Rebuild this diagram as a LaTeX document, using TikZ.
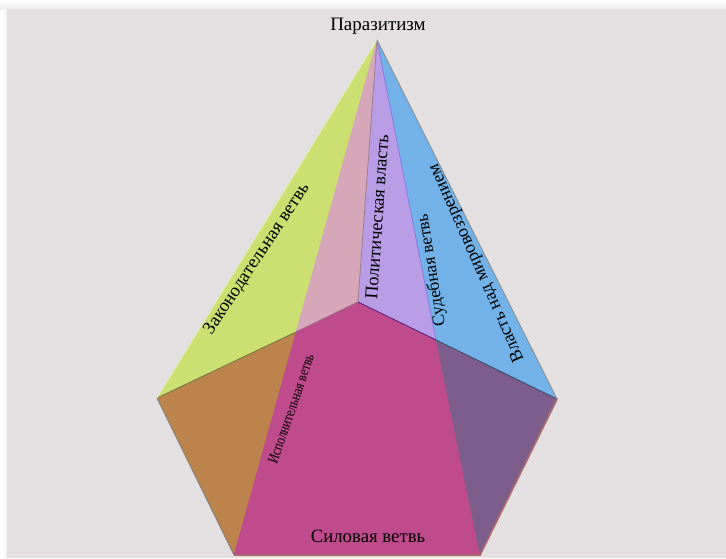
\documentclass[tikz,border=0pt]{standalone}
\usepackage{fontspec}
\setmainfont{Liberation Serif}
\usetikzlibrary{positioning}

\definecolor{wallgray}{HTML}{E4E0E1}
\definecolor{leggreen}{HTML}{CBE070}
\definecolor{polpink}{HTML}{D6A6B9}
\definecolor{pollilac}{HTML}{B89DE6}
\definecolor{viewblue}{HTML}{72B2E8}
\definecolor{execbrown}{HTML}{BD834C}
\definecolor{forcemag}{HTML}{BF4A8C}
\definecolor{courtviolet}{HTML}{7D5D8C}
\definecolor{rimbrown}{HTML}{A8686E}

\begin{document}
\begin{tikzpicture}
	[x=1pt, y=-1pt, face/.style = {draw=#1, fill=#1, line width=0.4pt, line join=round},
	rib/.style = {line width=0.8pt}, txt/.style = {inner sep=0pt, text=black}]
	\useasboundingbox (0,0) rectangle (726,558);
	\fill[white] (0,0) rectangle (726,558);
	\shade[top color=white, bottom color=black!7, draw=none] (0,0) rectangle (726,9);
	\shade[left color=white, right color=black!6, draw=none] (3,9) rectangle (7,558);
	\fill[wallgray] (7,9) rectangle (726,558);

	\coordinate (apex) at (377,40);
	\coordinate (left) at (157,398);
	\coordinate (right) at (557,399);
	\coordinate (botl) at (234,555);
	\coordinate (botr) at (480,555);
	\coordinate (back) at (358,302);
	\coordinate (frontl) at (296,332);
	\coordinate (frontr) at (436,340);

	% upper faces
	\draw[face=leggreen] (apex) -- (left) -- (frontl) -- cycle;
	\draw[face=polpink] (apex) -- (frontl) -- (back) -- cycle;
	\draw[face=pollilac] (apex) -- (back) -- (frontr) -- cycle;
	\draw[face=viewblue] (apex) -- (frontr) -- (right) -- cycle;
	% lower faces
	\draw[face=execbrown] (left) -- (botl) -- (frontl) -- cycle;
	\draw[face=forcemag] (frontl) -- (back) -- (frontr) -- (botr) -- (botl) -- cycle;
	\draw[face=courtviolet] (frontr) -- (right) -- (botr) -- cycle;

	% ribs
	\draw[rib, color=black!25!polpink] (apex) -- (back);
	\draw[rib, color=black!5!pollilac!80!blue] (apex) -- (frontr);
	\draw[rib, color=forcemag!60!black!70] (frontl) -- (back);
	\draw[rib, color=forcemag!60!blue!70!black] (back) -- (frontr);
	\draw[rib, color=viewblue!45!black] (frontr) -- (right);
	\draw[rib, color=leggreen!55!black] (left) -- (frontl);
	\draw[rib, color=leggreen!50!white] (apex) -- (left);
	\draw[rib, color=black!45] (apex) -- (right);
	\draw[rib, color=black!50] (left) -- (botl);
	\draw[line width=1.8pt, color=rimbrown] (right) -- (botr) -- (botl);

	\node[txt, font=\fontsize{19}{19}\selectfont] (top) at (378,26) {Паразитизм};
	\node[txt, font=\fontsize{18.4}{19}\selectfont, rotate=56.4] (leg) at (257,259) {Законодательная ветвь};
	\node[txt, font=\fontsize{18.3}{19}\selectfont, rotate=86] (pol) at (377,217) {Политическая власть};
	\node[txt, font=\fontsize{17.4}{18}\selectfont, rotate=99] (court) at (432,270) {Судебная ветвь};
	\node[txt, font=\fontsize{18}{18}\selectfont, rotate=113.7] (view) at (477,263) {Власть над мировоззрением};
	\node[txt, font=\fontsize{15}{15}\selectfont, rotate=71, xscale=0.8] (exec) at (291,409) {Исполнительная ветвь};
	\node[txt, font=\fontsize{18.8}{19}\selectfont] (force) at (368,536) {Силовая ветвь};
\end{tikzpicture}
\end{document}
